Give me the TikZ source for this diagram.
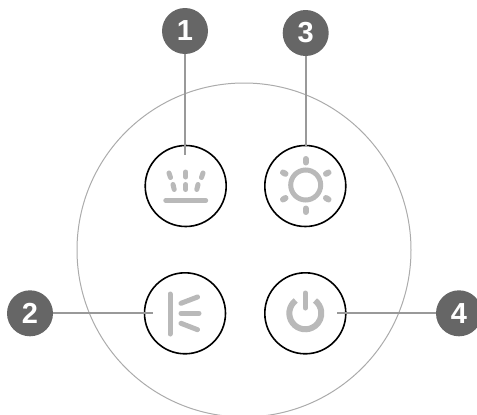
\documentclass[tikz,border=0pt]{standalone}
\usepackage{fontspec}
\setmainfont{Liberation Sans}
\tikzset{
  badge/.style={circle,fill=badgegray,draw=none,minimum size=46pt,inner sep=0pt,text=white,font=\fontsize{29}{29}\selectfont\bfseries},
  button/.style={circle,draw=black,line width=1.6pt,minimum size=81pt,inner sep=0pt},
  leader/.style={draw=leadgray,line width=1.7pt},
  icon/.style={draw=icongray,line width=5pt,line cap=round},
  sunray/.style={draw=icongray,line width=6pt,line cap=round},
  thinicon/.style={draw=icongray,line width=5pt,line cap=round}
}
\definecolor{badgegray}{HTML}{666666}
\definecolor{leadgray}{HTML}{999999}
\definecolor{icongray}{HTML}{B9B9B9}
\definecolor{ringgray}{HTML}{ABABAB}
\begin{document}
\begin{tikzpicture}[x=1pt,y=-1pt]
\useasboundingbox (0,0) rectangle (477,415);
\begin{scope}
\clip (0,0) rectangle (477,415);
\node[circle,draw=ringgray,line width=1pt,minimum size=334pt,inner sep=0pt] (ring) at (244,250) {};
\end{scope}
% buttons
\node[button] (b1) at (185.7,186) {};
\node[button] (b3) at (305.3,186) {};
\node[button] (b2) at (185,313.3) {};
\node[button] (b4) at (305.3,313.3) {};
% badges
\node[badge] (n1) at (185,31) {1};
\node[badge] (n3) at (305.7,33) {3};
\node[badge] (n2) at (30,313.3) {2};
\node[badge] (n4) at (459,313.3) {4};
% leader ends
\coordinate (e1) at (185,155);
\coordinate (e3) at (305.7,146);
\coordinate (e2) at (153,313.3);
\coordinate (e4) at (337,313.3);
\draw[leader] (n1) -- (e1);
\draw[leader] (n3) -- (e3);
\draw[leader] (n2) -- (e2);
\draw[leader] (n4) -- (e4);
% icon 1
\draw[thinicon,line width=4.4pt] (165.5,200.5) -- (206,200.5);
\draw[thinicon] (169,173) -- (170.5,177.5);
\draw[thinicon] (185.7,172) -- (185.7,177);
\draw[thinicon] (203,173) -- (201.5,177.5);
\draw[thinicon] (173,184.5) -- (174.2,189.5);
\draw[thinicon] (185.7,184.5) -- (185.7,189.5);
\draw[thinicon] (198,184.5) -- (196.8,189.5);
% icon 3
\draw[icongray,line width=5pt] (305.7,185) circle[radius=15pt];
\draw[sunray] (305.7,159) -- (305.7,162.5);
\draw[sunray] (305.7,208.5) -- (305.7,212);
\draw[sunray] (283,172.5) -- (285.5,173.8);
\draw[sunray] (326,173.8) -- (328.5,172.5);
\draw[sunray] (283,199.5) -- (285.5,198);
\draw[sunray] (326,198) -- (328.5,199.5);
% icon 2
\draw[icon] (170,294) -- (170,334);
\draw[icon] (181,303.3) -- (197.5,297);
\draw[icon] (181,313.3) -- (199,313.3);
\draw[icon] (181,323.3) -- (197.5,329.7);
% icon 4
\draw[icon,line width=6pt,line cap=butt] (295.7,300.5) arc[start angle=127,end angle=413,radius=16pt];
\draw[icon] (305.3,293) -- (305.3,308);
\end{tikzpicture}
\end{document}
